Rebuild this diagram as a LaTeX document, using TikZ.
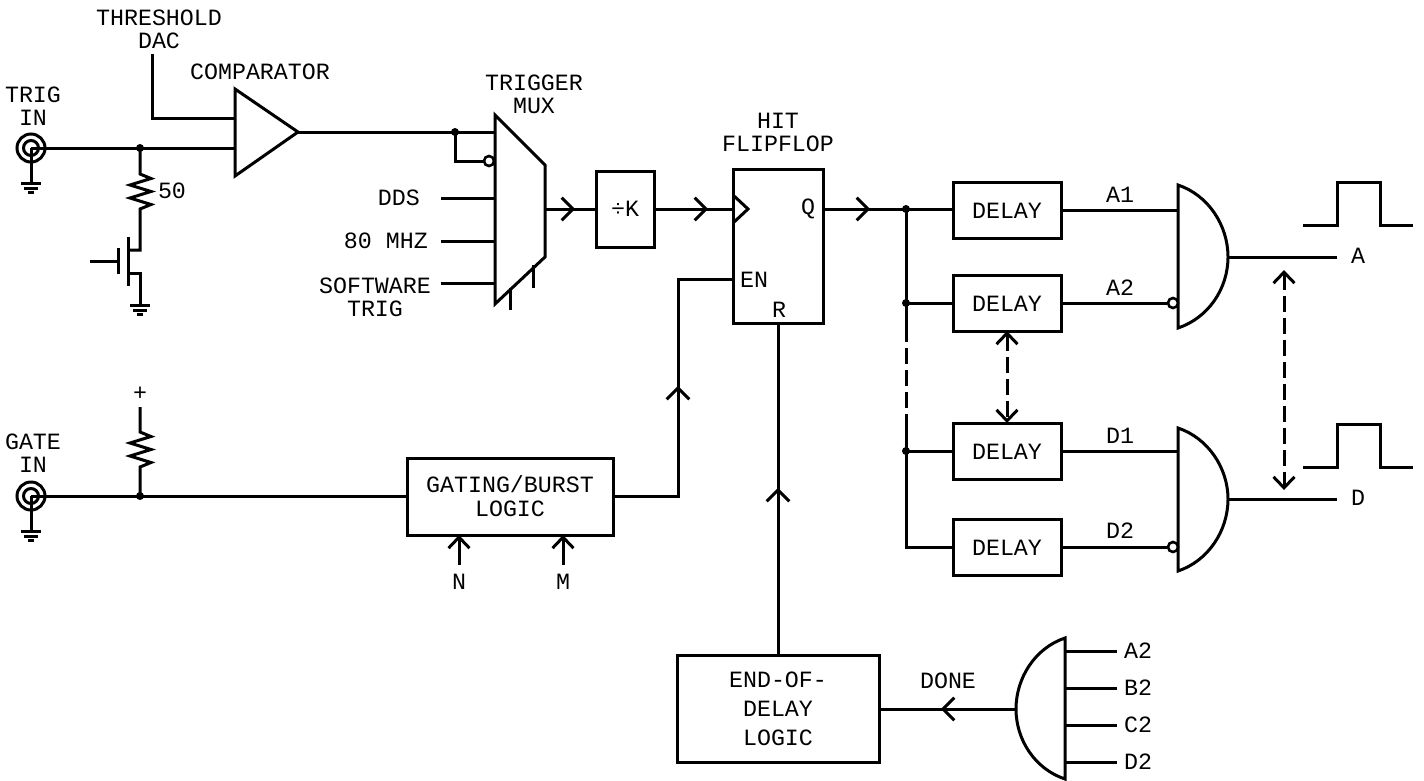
\documentclass[tikz,border=0pt]{standalone}
\usepackage{fontspec}
\setmainfont{Liberation Mono}
\usetikzlibrary{arrows.meta,calc}
\tikzset{
  wire/.style={line width=3pt,line join=miter,line cap=butt},
  txt/.style={font=\fontsize{23.3}{23}\selectfont,inner sep=0pt,align=center,text=black},
  boxn/.style={draw,line width=3pt,inner sep=0pt,outer sep=0pt,font=\fontsize{23.3}{29}\selectfont,align=center,anchor=north west},
  dotn/.style={circle,fill=black,inner sep=0pt,minimum size=8pt},
  bub/.style={circle,draw,fill=white,line width=2.6pt,inner sep=0pt,minimum size=10pt},
  barb/.style={-{Straight Barb[length=11pt,width=21pt,line width=3pt]}},
  dbarb/.style={{Straight Barb[length=11pt,width=21pt,line width=3pt]}-{Straight Barb[length=11pt,width=21pt,line width=3pt]}},
  dash wire/.style={dash pattern=on 16pt off 6pt}
}
\newcommand{\chev}[3]{\draw[wire] (#1,#2) ++(#3-45:-16) -- (#1,#2) -- ++(#3+45:-16);}
\newcommand{\gnd}[1]{\draw[wire] (#1) ++(-10,0) -- ++(20,0) (#1) ++(-7,5) -- ++(14,0) (#1) ++(-3,9) -- ++(6,0);}
\newcommand{\coax}[1]{\draw[wire] (#1) circle (14) (#1) circle (7.5);}
\begin{document}
\begin{tikzpicture}[x=1pt,y=-1pt]
\useasboundingbox (0,0) rectangle (1424,780);

% ---- labels
\node[txt] (tTh) at (159,29) {THRESHOLD\\DAC};
\node[txt] (tComp) at (260,72) {COMPARATOR};
\node[txt] (tTrig) at (33,106) {TRIG\\IN};
\node[txt] (t50) at (172,191) {50};
\node[txt] (tMux) at (534,94) {TRIGGER\\MUX};
\node[txt,anchor=east] (tDDS) at (420,198) {DDS};
\node[txt,anchor=east] (t80) at (428,241) {80 MHZ};
\node[txt] (tSoft) at (375,297) {SOFTWARE\\TRIG};
\node[txt] (tHit) at (778,132) {HIT\\FLIPFLOP};
\node[txt] (tGate) at (33,453) {GATE\\IN};
\node[txt] (tPlus) at (140,394) {+};
\node[txt] (tN) at (459,582) {N};
\node[txt] (tM) at (563,582) {M};
\node[txt] (tDone) at (948,681) {DONE};
\node[txt] (tA1) at (1120,195) {A1};
\node[txt] (tA2) at (1120,288) {A2};
\node[txt] (tD1) at (1120,436) {D1};
\node[txt] (tD2) at (1120,531) {D2};
\node[txt] (tA) at (1358,256) {A};
\node[txt] (tD) at (1358,498) {D};
\node[txt] (iA) at (1138,651) {A2};
\node[txt] (iB) at (1138,688) {B2};
\node[txt] (iC) at (1138,725) {C2};
\node[txt] (iE) at (1138,762) {D2};
\node[txt] (tQ) at (808,209) {Q};
\node[txt] (tEN) at (754,280) {EN};
\node[txt] (tR) at (779,310) {R};

% ---- boxes
\node[boxn,minimum width=58pt,minimum height=76pt] (divk) at (596,171) {÷K};
\node[boxn,minimum width=90pt,minimum height=154pt] (ff) at (733,169) {};
\node[boxn,minimum width=108pt,minimum height=56pt,text height=17pt] (d1) at (953,182) {DELAY};
\node[boxn,minimum width=108pt,minimum height=56pt,text height=17pt] (d2) at (953,275) {DELAY};
\node[boxn,minimum width=108pt,minimum height=56pt,text height=17pt] (d3) at (953,423) {DELAY};
\node[boxn,minimum width=108pt,minimum height=56pt,text height=17pt] (d4) at (953,519) {DELAY};
\node[boxn,minimum width=206pt,minimum height=77pt,font=\fontsize{23.3}{24}\selectfont] (gb) at (407,458) {GATING/BURST\\LOGIC};
\node[boxn,minimum width=202pt,minimum height=107pt] (eod) at (677,655) {END-OF-\\DELAY\\LOGIC};

% ---- gates and shapes
\draw[wire] (235,89) coordinate (cmpT) -- (298,132) coordinate (cmpO) -- (235,176) coordinate (cmpB) -- cycle;
\draw[wire] (495,115) -- (545,165) -- (545,257) -- (495,304) -- cycle;
\coordinate (muxO) at (545,209);
\draw[wire] (1178,185) .. controls (1208,195) and (1228,225) .. (1228,257) coordinate (gaO) .. controls (1228,289) and (1208,318) .. (1178,328) -- cycle;
\draw[wire] (1178,428) .. controls (1208,438) and (1228,468) .. (1228,499) coordinate (gdO) .. controls (1228,531) and (1208,561) .. (1178,571) -- cycle;
\draw[wire] (1065,638) .. controls (1035,648) and (1016,678) .. (1016,709) coordinate (gdone) .. controls (1016,740) and (1035,769) .. (1065,779) -- cycle;
\draw[wire] (733,195) -- (748,209) -- (733,223);

% ---- input section
\coordinate (trig) at (31,148);
\coordinate (gate) at (31,496);
\coax{trig}
\coax{gate}
\coordinate (g1) at (31,183);
\coordinate (g2) at (31,531);
\coordinate (g3) at (140,305);
\draw[wire] (trig) -- (g1);
\draw[wire] (gate) -- (g2);
\gnd{g1}\gnd{g2}\gnd{g3}
\node[dotn] (j1) at (140,148) {};
\node[dotn] (j2) at (140,496) {};
\draw[wire] (trig) -- (235,148);
\coordinate (thr) at (152,54);
\draw[wire] (thr) |- (235,118);
% R and MOSFET
\draw[wire] (j1.center) -- (140,174) -- ++(11,4.5) -- ++(-21,6.5) -- ++(21,6.5) -- ++(-21,6.5) -- ++(21,6.5) -- ++(-11,4.5) -- (140,250) -- (128,250);
\draw[wire] (128,237) -- (128,286);
\draw[wire] (118,248) -- (118,274);
\coordinate (mg) at (90,261);
\draw[wire] (mg) -- (118,261);
\draw[wire] (128,273) -- (140,273) -- (g3);
% gate pull-up
\coordinate (pu) at (140,407);
\draw[wire] (pu) -- (140,432) -- ++(11,4.5) -- ++(-21,6.5) -- ++(21,6.5) -- ++(-21,6.5) -- ++(21,6.5) -- ++(-11,4.5) -- (j2.center);
\draw[wire] (gate) -- (gate-|gb.west);

% ---- mux wires
\node[dotn] (j3) at (455,132) {};
\draw[wire] (cmpO) -- (495,132);
\draw[wire] (j3.center) -- (455,161) -- (485,161);
\node[bub] (bm) at (489,161) {};
\coordinate (m1) at (441,198);
\coordinate (m2) at (441,241);
\coordinate (m3) at (441,283);
\draw[wire] (m1) -- (495,198);
\draw[wire] (m2) -- (495,241);
\draw[wire] (m3) -- (495,283);
\draw[wire] (510,288) -- (510,310);
\draw[wire] (533,265) -- (533,288);
\draw[wire] (muxO) -- (muxO-|divk.west);
\chev{573}{209}{0}
\draw[wire] (muxO-|divk.east) -- (muxO-|ff.west);
\chev{706}{209}{0}
\node[dotn] (j4) at (906,209) {};
\draw[wire] (muxO-|ff.east) -- (muxO-|d1.west);
\chev{868}{209}{0}

% ---- delay fan-out
\node[dotn] (j5) at (906,303) {};
\node[dotn] (j6) at (906,451) {};
\draw[wire] (j4.center) -- (906,342) coordinate (dsA);
\draw[wire,dash wire] (dsA) ++(0,6) -- (906,408) coordinate (dsB);
\draw[wire] (dsB) ++(0,6) -- (j6.center);
\draw[wire] (j6.center) |- (d4.west);
\draw[wire] (j5.center) -- (d2.west);
\draw[wire] (j6.center) -- (d3.west);
\draw[wire] (d1.east) -- (1178,210);
\draw[wire] (d2.east) -- (1167,303);
\node[bub] (b2) at (1173,303) {};
\draw[wire] (d3.east) -- (1178,451);
\draw[wire] (d4.east) -- (1167,547);
\node[bub] (b4) at (1173,547) {};
\coordinate (oA) at (1337,257);
\coordinate (oD) at (1337,499);
\draw[wire] (gaO) -- (oA);
\draw[wire] (gdO) -- (oD);
\draw[wire,dbarb,dash wire] (d2.south) -- (d3.north);
\draw[wire,dbarb,dash wire] (1284,270) coordinate (dA) -- (1284,490) coordinate (dB);
% pulses
\draw[wire] (1303,225) -- (1337,225) -- (1337,182) -- (1380,182) -- (1380,225) -- (1413,225);
\draw[wire] (1303,467) -- (1337,467) -- (1337,424) -- (1380,424) -- (1380,467) -- (1413,467);

% ---- gating and reset
\draw[wire] (gate-|gb.east) -- (678,496) |- (733,279);
\chev{678}{388}{-90}
\draw[wire] (eod.north) -- (eod.north|-ff.south);
\chev{778}{490}{-90}
\coordinate (nb) at (459,565);
\coordinate (mb) at (563,565);
\draw[wire,barb] (nb) -- (nb|-gb.south);
\draw[wire,barb] (mb) -- (mb|-gb.south);
\draw[wire] (gdone) -- (gdone-|eod.east);
\chev{943}{709}{180}
\coordinate (i1) at (1117,651);
\coordinate (i2) at (1117,688);
\coordinate (i3) at (1117,725);
\coordinate (i4) at (1117,762);
\draw[wire] (i1) -- (1065,651);
\draw[wire] (i2) -- (1065,688);
\draw[wire] (i3) -- (1065,725);
\draw[wire] (i4) -- (1065,762);
\end{tikzpicture}
\end{document}
